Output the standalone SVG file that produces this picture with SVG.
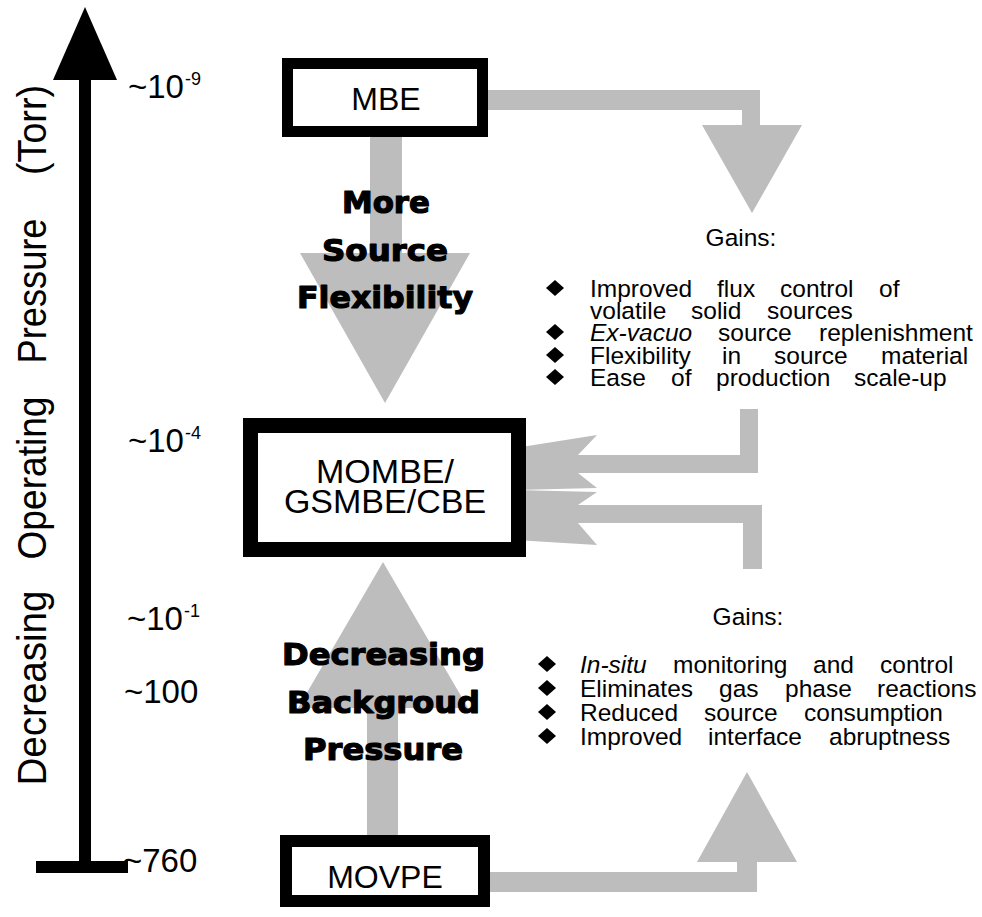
<svg xmlns="http://www.w3.org/2000/svg" width="982" height="917" viewBox="0 0 982 917">
<style>
.conn{fill:#bdbdbd;stroke:none}
.box{fill:#fff;stroke:#000}
.lbl{font-family:"Liberation Sans",Arial,sans-serif;fill:#000}
.big{font-family:"DejaVu Sans","Liberation Sans",sans-serif;font-weight:bold;font-size:31px;fill:#000;stroke:#000;stroke-width:1.2;stroke-linejoin:round}
.tick{font-family:"Liberation Sans",Arial,sans-serif;font-size:33px;fill:#000}
.sup{font-family:"Liberation Sans",Arial,sans-serif;font-size:18px;fill:#000}
.axl{font-family:"Liberation Sans",Arial,sans-serif;font-size:41px;fill:#000}
.gl{font-family:"Liberation Sans",Arial,sans-serif;font-size:24.5px;fill:#000}
.bul{fill:#000}
</style>
<rect width="982" height="917" fill="#fff"/>

<g id="axis">
  <polygon points="85,7 53,80 117,80" fill="#000"/>
  <rect x="79" y="78" width="12" height="786" fill="#000"/>
  <rect x="36" y="861" width="92" height="12" fill="#000"/>
  <text class="axl" transform="translate(46,688) rotate(-90)" text-anchor="middle" textLength="195" lengthAdjust="spacingAndGlyphs">Decreasing</text>
  <text class="axl" transform="translate(46,478) rotate(-90)" text-anchor="middle" textLength="163" lengthAdjust="spacingAndGlyphs">Operating</text>
  <text class="axl" transform="translate(46,291) rotate(-90)" text-anchor="middle" textLength="145" lengthAdjust="spacingAndGlyphs">Pressure</text>
  <text class="axl" transform="translate(46,130) rotate(-90)" text-anchor="middle" textLength="90" lengthAdjust="spacingAndGlyphs">(Torr)</text>
</g>

<g id="ticks">
  <text class="tick" x="128" y="98">~10</text><text class="sup" x="185" y="85">-9</text>
  <text class="tick" x="128" y="452">~10</text><text class="sup" x="185" y="439">-4</text>
  <text class="tick" x="127" y="630">~10</text><text class="sup" x="184" y="617">-1</text>
  <text class="tick" x="124" y="703">~100</text>
  <text class="tick" x="123" y="872">~760</text>
</g>

<g id="connectors">
  <path class="conn" d="M370,135 L402,135 L402,253 L470,253 L385,403 L300,253 L370,253 Z"/>
  <path class="conn" d="M367,838 L367,708 L298,708 L383,562 L468,708 L398,708 L398,838 Z"/>
  <path class="conn" d="M483,90 L760,90 L760,125 L802,125 L752,213 L702,125 L742,125 L742,110 L483,110 Z"/>
  <path class="conn" d="M485,872 L737,872 L737,862 L697,862 L747,772 L797,862 L757,862 L757,892 L485,892 Z"/>
  <path class="conn" d="M515,448 L597,435 L578,455 L740,455 L740,409 L758,409 L758,473 L578,473 L597,488 L515,490 Z"/>
  <path class="conn" d="M515,490 L597,492 L578,505 L762,505 L762,569 L743,569 L743,523 L578,523 L597,545 L515,540 Z"/>
</g>

<g id="mbe">
  <rect class="box" x="287.5" y="63.5" width="195" height="68" stroke-width="11"/>
  <text class="lbl" x="386" y="110" font-size="32" text-anchor="middle">MBE</text>
</g>

<g id="mombe">
  <rect class="box" x="250.5" y="425.5" width="268" height="124" stroke-width="15"/>
  <text class="lbl" x="385" y="483" font-size="34" text-anchor="middle">MOMBE/</text>
  <text class="lbl" x="385" y="513" font-size="34" text-anchor="middle">GSMBE/CBE</text>
</g>

<g id="movpe">
  <rect class="box" x="286" y="841" width="198" height="60" stroke-width="12"/>
  <text class="lbl" x="385" y="888" font-size="32" text-anchor="middle">MOVPE</text>
</g>

<g id="label-source">
  <text class="big" x="342" y="213" textLength="88" lengthAdjust="spacingAndGlyphs">More</text>
  <text class="big" x="322" y="261" textLength="126" lengthAdjust="spacingAndGlyphs">Source</text>
  <text class="big" x="297" y="308" textLength="176" lengthAdjust="spacingAndGlyphs">Flexibility</text>
</g>

<g id="label-pressure">
  <text class="big" x="282" y="665" textLength="203" lengthAdjust="spacingAndGlyphs">Decreasing</text>
  <text class="big" x="287" y="713" textLength="193" lengthAdjust="spacingAndGlyphs">Backgroud</text>
  <text class="big" x="303" y="760" textLength="160" lengthAdjust="spacingAndGlyphs">Pressure</text>
</g>

<g id="gains-top">
  <text class="gl" x="741" y="246" text-anchor="middle">Gains:</text>
  <polygon class="bul" points="555,280 564,288 555,296 546,288"/>
  <text class="gl" y="297"><tspan x="590">Improved</tspan><tspan x="717">flux</tspan><tspan x="780">control</tspan><tspan x="879">of</tspan></text>
  <text class="gl" y="319"><tspan x="590">volatile</tspan><tspan x="691">solid</tspan><tspan x="767">sources</tspan></text>
  <polygon class="bul" points="555,324 564,332 555,340 546,332"/>
  <text class="gl" y="341"><tspan x="590" font-style="italic">Ex-vacuo</tspan><tspan x="718">source</tspan><tspan x="819">replenishment</tspan></text>
  <polygon class="bul" points="555,347 564,355 555,363 546,355"/>
  <text class="gl" y="364"><tspan x="590">Flexibility</tspan><tspan x="722">in</tspan><tspan x="774">source</tspan><tspan x="881">material</tspan></text>
  <polygon class="bul" points="555,369 564,377 555,385 546,377"/>
  <text class="gl" y="386"><tspan x="590">Ease</tspan><tspan x="671">of</tspan><tspan x="716">production</tspan><tspan x="854">scale-up</tspan></text>
</g>

<g id="gains-bottom">
  <text class="gl" x="748" y="625" text-anchor="middle">Gains:</text>
  <polygon class="bul" points="547,656 556,664 547,672 538,664"/>
  <text class="gl" y="673"><tspan x="580" font-style="italic">In-situ</tspan><tspan x="673">monitoring</tspan><tspan x="813">and</tspan><tspan x="880">control</tspan></text>
  <polygon class="bul" points="547,680 556,688 547,696 538,688"/>
  <text class="gl" y="697"><tspan x="580">Eliminates</tspan><tspan x="719">gas</tspan><tspan x="785">phase</tspan><tspan x="877">reactions</tspan></text>
  <polygon class="bul" points="547,704 556,712 547,720 538,712"/>
  <text class="gl" y="721"><tspan x="580">Reduced</tspan><tspan x="704">source</tspan><tspan x="804">consumption</tspan></text>
  <polygon class="bul" points="547,728 556,736 547,744 538,736"/>
  <text class="gl" y="745"><tspan x="580">Improved</tspan><tspan x="708">interface</tspan><tspan x="829">abruptness</tspan></text>
</g>
</svg>
